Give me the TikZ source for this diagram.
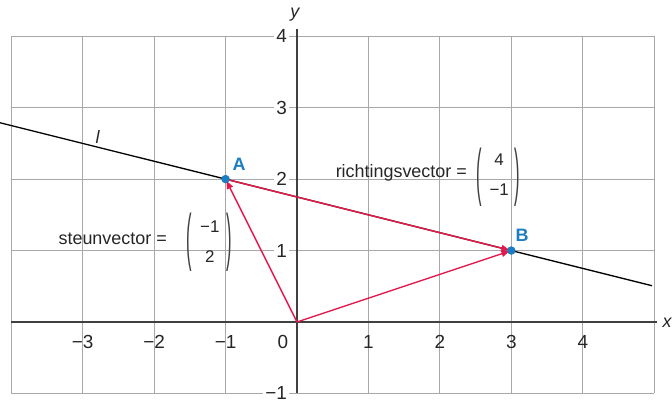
\documentclass[tikz,border=0pt]{standalone}
\usepackage{fontspec}
\setmainfont{Liberation Sans}
\usetikzlibrary{arrows.meta}
\definecolor{gridgray}{HTML}{A8A8A8}
\definecolor{axisgray}{HTML}{404040}
\definecolor{vecred}{HTML}{E3194B}
\definecolor{ptblue}{HTML}{1B7EC2}
\definecolor{txt}{HTML}{262626}
\begin{document}
\begin{tikzpicture}[x=71.44bp,y=71.44bp,
  gridline/.style={gridgray,line width=1.1bp},
  axisline/.style={axisgray,line width=1.8bp},
  lline/.style={black,line width=1.3bp},
  vec/.style={vecred,line width=1.4bp,-{Triangle[length=8bp,width=6.5bp]},shorten >=2bp},
  ptdot/.style={circle,fill=ptblue,inner sep=0pt,minimum size=8.5bp},
  xtick/.style={font=\fontsize{19}{21}\selectfont,text=txt,inner sep=0pt},
  ytick/.style={font=\fontsize{19}{21}\selectfont,text=txt,anchor=east,fill=white,inner xsep=2bp,inner ysep=0pt},
  lab/.style={font=\fontsize{18}{20}\selectfont,text=txt,inner sep=0pt},
  comp/.style={font=\fontsize{17}{19}\selectfont,text=txt,inner sep=0pt},
  paren/.style={font=\fontsize{15}{17}\selectfont,text=axisgray,inner sep=0pt},
  ptlab/.style={font=\bfseries\fontsize{18}{20}\selectfont,text=ptblue,inner sep=0pt},
  varlab/.style={font=\itshape\fontsize{18}{20}\selectfont,text=txt,inner sep=0pt}
]
\useasboundingbox (-4.157,-1.078) rectangle (5.249,4.507);
% grid
\draw[gridline,xstep=71.44bp,ystep=71.44bp] (-4,-1) grid (5,4);
% axes
\draw[axisline] (-4,0) -- (5.04,0);
\draw[axisline] (0,-1) -- (0,4.1);
% tick labels
\foreach \k/\t in {-3/−3,-2/−2,-1/−1,1/1,2/2,3/3,4/4}
  \node[xtick] (xt\k) at (\k,-0.28) {\t};
\node[xtick,anchor=east] (xt0) at (-0.12,-0.28) {0};
\foreach \k/\t in {1/1,2/2,3/3,4/4,-1/−1}
  \node[ytick] (yt\k) at (-0.11,\k) {\t};
% axis names
\node[varlab] (xname) at (5.18,-0.01) {x};
\node[varlab] (yname) at (-0.03,4.30) {y};
% points
\coordinate (O) at (0,0);
\coordinate (A) at (-1,2);
\coordinate (B) at (3,1);
\coordinate (L1) at (-4.157,2.789);
\coordinate (L2) at (4.97,0.5075);
% line l
\draw[lline] (L1) -- (L2);
\node[varlab] (lname) at (-2.79,2.59) {l};
% vectors
\draw[vec] (O) -- (A);
\draw[vec] (O) -- (B);
\draw[vec] (A) -- (B);
\node[ptdot] (Adot) at (A) {};
\node[ptdot] (Bdot) at (B) {};
\node[ptlab] (Alab) at (-0.81,2.21) {A};
\node[ptlab] (Blab) at (3.15,1.22) {B};
% richtingsvector
\node[lab,anchor=base east] (rv) at (2.38,2.016) {richtingsvector =};
\node[paren] (rvl) at (2.555,2.03) {\scalebox{1.1}[4.2]{(}};
\node[paren] (rvr) at (3.085,2.03) {\scalebox{1.1}[4.2]{)}};
\node[comp] (rv1) at (2.83,2.27) {4};
\node[comp] (rv2) at (2.83,1.85) {−1};
% steunvector
\node[lab,anchor=base east] (sv) at (-1.82,1.078) {steunvector =};
\node[paren] (svl) at (-1.505,1.12) {\scalebox{1.1}[4.2]{(}};
\node[paren] (svr) at (-0.945,1.12) {\scalebox{1.1}[4.2]{)}};
\node[comp] (sv1) at (-1.22,1.33) {−1};
\node[comp] (sv2) at (-1.22,0.91) {2};
\end{tikzpicture}
\end{document}
